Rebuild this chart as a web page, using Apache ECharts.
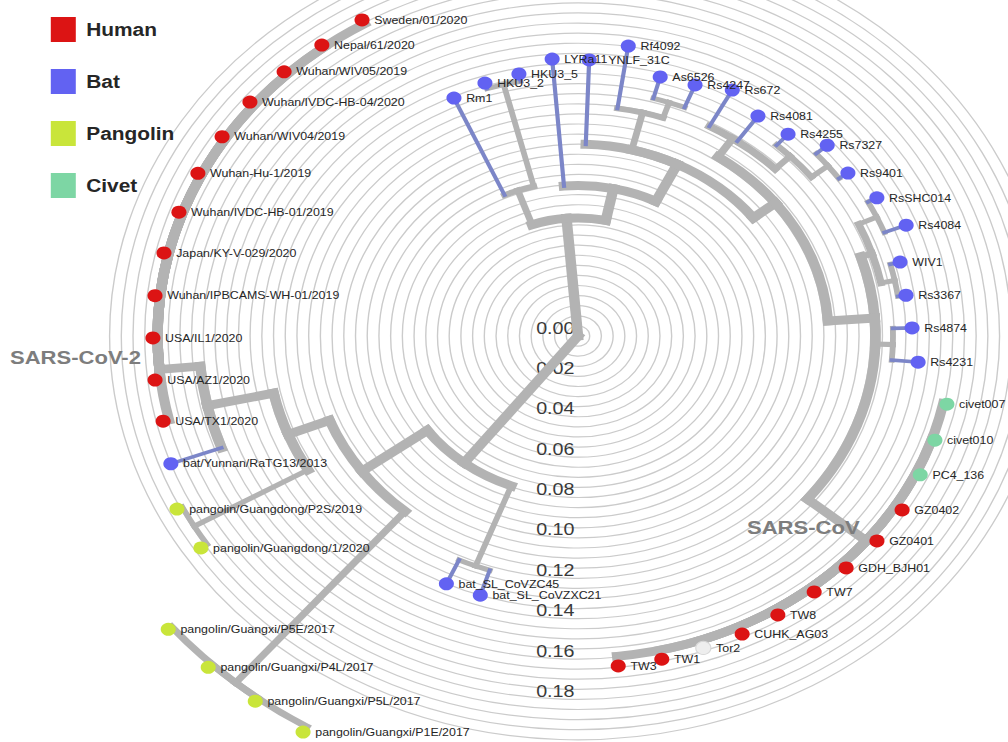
<!DOCTYPE html>
<html>
<head>
<meta charset="utf-8">
<script src="https://cdn.jsdelivr.net/npm/echarts@6/dist/echarts.min.js"></script>
<style>
html,body{margin:0;padding:0;background:#fff;overflow:hidden;}
#frame{width:1008px;height:742px;overflow:hidden;position:relative;background:#fff;}
#chart{height:742px;transform-origin:0 0;}
</style>
</head>
<body>
<div id="frame"><div id="chart"></div></div>
<script>
// ---------------- data ----------------
// tips: label, host, parent node, angle (deg, counter-clockwise from 3 o'clock), distance
const tipNames = [
  'Sweden/01/2020','Nepal/61/2020','Wuhan/WIV05/2019','Wuhan/IVDC-HB-04/2020','Wuhan/WIV04/2019',
  'Wuhan-Hu-1/2019','Wuhan/IVDC-HB-01/2019','Japan/KY-V-029/2020','Wuhan/IPBCAMS-WH-01/2019',
  'USA/IL1/2020','USA/AZ1/2020','USA/TX1/2020',
  'bat/Yunnan/RaTG13/2013',
  'pangolin/Guangdong/P2S/2019','pangolin/Guangdong/1/2020',
  'pangolin/Guangxi/P5E/2017','pangolin/Guangxi/P4L/2017','pangolin/Guangxi/P5L/2017','pangolin/Guangxi/P1E/2017',
  'bat_SL_CoVZC45','bat_SL_CoVZXC21',
  'Rm1','HKU3_2','HKU3_5','LYRa11','YNLF_31C','Rf4092','As6526','Rs4247',
  'Rs672','Rs4081','Rs4255','Rs7327','Rs9401','RsSHC014','Rs4084','WIV1','Rs3367','Rs4874','Rs4231',
  'civet007','civet010','PC4_136','GZ0402','GZ0401','GDH_BJH01','TW7','TW8','CUHK_AG03','Tor2','TW1','TW3'
];
const tipHosts = [
  'Human','Human','Human','Human','Human','Human','Human','Human','Human','Human','Human','Human',
  'Bat',
  'Pangolin','Pangolin',
  'Pangolin','Pangolin','Pangolin','Pangolin',
  'Bat','Bat',
  'Bat','Bat','Bat','Bat','Bat','Bat','Bat','Bat',
  'Bat','Bat','Bat','Bat','Bat','Bat','Bat','Bat','Bat','Bat','Bat',
  'Civet','Civet','Civet','Human','Human','Human','Human','Human','Human','Unknown','Human','Human'
];
const tipParent = [
  'S2','S2','S2','S2','S2','S2','S2','S2','S2','S2','S2','S2',
  'B3',
  'PGD','PGD',
  'PGX','PGX','PGX','PGX',
  'BSL','BSL',
  'UL','HKU3','HKU3','UR','C','RF','AR','AR',
  'RS1','RS1','RS1b','RS1c','RS1c','SR','SR','WR','WR','RsB','RsB',
  'SC','SC','SC','SC','SC','SC','SC','SC','SC','SC','SC','SC'
];
const tipAngle = [
  120.5,127.2,133.8,140.4,147.0,153.6,160.2,166.9,173.7,180.3,186.9,193.4,
  200.0,
  206.6,213.1,
  219.7,226.1,232.7,239.1,
  245.4,252.0,
  114.2,107.6,101.0,94.6,88.0,81.5,74.7,68.1,
  61.6,54.8,48.1,41.6,35.0,28.2,21.4,14.9,8.2,1.6,-5.1,
  -12.1,-18.7,-25.2,-31.9,-38.5,-45.1,-51.5,-58.3,-64.6,-70.9,-77.4,-84.0
];
const tipDist = [
  0.1817,0.1809,0.1813,0.1818,0.1812,0.1812,0.1811,0.1815,0.1817,0.1815,0.1819,0.1821,
  0.185,
  0.1915,0.1922,
  0.2274,0.2277,0.2274,0.2286,
  0.135,0.135,
  0.1292,0.1314,0.1322,0.1376,0.1368,0.1452,0.133,0.134,
  0.1385,0.1333,0.1343,0.1423,0.1407,0.1448,0.1505,0.1423,0.1415,0.1427,0.1458,
  0.1611,0.1609,0.1615,0.163,0.1631,0.1622,0.162,0.1624,0.1634,0.1635,0.164,0.1643
];
// internal nodes: id, parent, angle, distance
const nodeNames  = ['root','U','UL','HKU3','UR','C','RF','AR','A','RS1','RS1b','RS1c','N','RS2','SR','WR','RsB','SC',
                    'B','B1','BSL','B2','PGX','B3','PGD','S2'];
const nodeParent = [null,'root','U','UL','U','UR','C','RF','C','A','RS1','RS1b','A','N','RS2','RS2','N','N',
                    'root','B','B','B1','B1','B2','B2','B3'];
const nodeAngle  = [0,94.8,109.6,104.3,78.3,63.5,76.0,71.4,38.0,56.0,44.5,38.3,4.0,18.0,24.8,11.5,-1.8,-39.5,
                    232.3,216.0,249.0,201.5,229.6,192.3,209.9,185.3];
const nodeDist   = [0,0.0585,0.0765,0.1285,0.0745,0.095,0.114,0.122,0.107,0.118,0.127,0.136,0.127,0.132,0.1405,0.138,0.1345,0.1595,
                    0.0795,0.114,0.122,0.133,0.2255,0.162,0.189,0.1795];
const hostNames = ['Human','Bat','Pangolin','Civet'];
const cladeNames = ['SARS-CoV-2','SARS-CoV'];
// radial scale: ring every 0.005, label every 0.02 up to 0.18
const RING_STEP = 0.005, LABEL_STEP = 0.02, LABEL_MAX = 0.18, AXIS_MAX = 0.2;

// ---------------- styles / layout ----------------
const STRETCH = 1.16;             // the reference figure is stretched horizontally
const PX_PER_UNIT = 2019;
const hostColors = {Human:'#dc1414', Bat:'#6262f2', Pangolin:'#c9e53a', Civet:'#7dd6a4', Unknown:'#eeeeee'};
const GRAY = '#b3b3b3', BLUE = '#7c86c8';
const FONT = 'Liberation Sans, Arial, Helvetica, sans-serif';
const labelGap = {'YNLF_31C': 10};   // keeps this label clear of its crowded neighbour

const chartEl = document.getElementById('chart');
chartEl.style.width = (1008 / STRETCH) + 'px';
chartEl.style.transform = 'scaleX(' + STRETCH + ')';

// ---------------- build tree ----------------
const nodes = {};
nodeNames.forEach((n, i) => { nodes[n] = {name:n, parent:nodeParent[i], angle:nodeAngle[i], dist:nodeDist[i], host:'', tip:false, kids:[]}; });
tipNames.forEach((n, i) => { nodes[n] = {name:n, parent:tipParent[i], angle:tipAngle[i], dist:tipDist[i], host:tipHosts[i], tip:true, kids:[]}; });
Object.values(nodes).forEach(nd => { if (nd.parent) nodes[nd.parent].kids.push(nd.name); });
function countTips(nd) { if (nd.tip) return 1; if (nd.nt) return nd.nt; nd.nt = nd.kids.reduce((s, k) => s + countTips(nodes[k]), 0); return nd.nt; }
Object.values(nodes).forEach(countTips);
const widthOf = nd => Math.min(9, 3.6 + 1.45 * Math.log2(countTips(nd)));
const toAxisAngle = a => a + 90;   // angle axis starts at 6 o'clock, counter-clockwise

const edgeData = [];
Object.values(nodes).forEach(nd => {
  if (!nd.parent) return;
  const p = nodes[nd.parent];
  edgeData.push([nd.dist, toAxisAngle(nd.angle), p.dist, toAxisAngle(p.angle), widthOf(p), widthOf(nd), (nd.tip && nd.host === 'Bat') ? 1 : 0]);
});

function renderEdge(params, api) {
  const r1 = api.value(0), a1 = api.value(1), r0 = api.value(2), a0 = api.value(3);
  const wP = api.value(4), wC = api.value(5), blue = api.value(6);
  const c = api.coord([0, a1]);
  const pPar = api.coord([r0, a0]);
  const pElb = api.coord([r0, a1]);
  const pChd = api.coord([r1, a1]);
  const children = [];
  if (r0 > 0) {
    const R = Math.hypot(pElb[0] - c[0], pElb[1] - c[1]);
    const s0 = Math.atan2(pPar[1] - c[1], pPar[0] - c[0]);
    let d = Math.atan2(pElb[1] - c[1], pElb[0] - c[0]) - s0;
    while (d > Math.PI) d -= 2 * Math.PI;
    while (d < -Math.PI) d += 2 * Math.PI;
    if (Math.abs(d) > 1e-6) {
      children.push({type:'arc', shape:{cx:c[0], cy:c[1], r:R, startAngle:s0, endAngle:s0 + d, clockwise:d > 0},
        style:{stroke:GRAY, lineWidth:wP, fill:'none', lineCap:'square'}});
    }
  }
  children.push({type:'line', shape:{x1:pElb[0], y1:pElb[1], x2:pChd[0], y2:pChd[1]},
    style:{stroke: blue ? BLUE : GRAY, lineWidth:wC, lineCap:'square'}});
  return {type:'group', children};
}

const scatterSeries = hostNames.concat(['Unknown']).map(h => ({
  type:'scatter', name:h, coordinateSystem:'polar', clip:false, z:3,
  symbolSize:13,
  itemStyle:{color:hostColors[h], opacity:1, borderColor: h === 'Unknown' ? '#d8d8d8' : 'transparent', borderWidth: h === 'Unknown' ? 1 : 0},
  label:{show:true, position:'right', distance:4, formatter:'{b}', fontSize:10.7, color:'#262626', fontFamily:FONT},
  emphasis:{disabled:true},
  data: tipNames.map((n, i) => {
      const item = {name:n, value:[tipDist[i], toAxisAngle(tipAngle[i])], host:tipHosts[i]};
      if (labelGap[n]) item.label = {distance: labelGap[n]};
      return item;
    }).filter(d => d.host === h)
}));

const chart = echarts.init(chartEl, null, {renderer:'svg'});
chart.setOption({
  animation:false,
  backgroundColor:'#ffffff',
  textStyle:{fontFamily:FONT},
  legend:{
    data:hostNames, orient:'vertical', left:45 / STRETCH, top:12, icon:'rect',
    itemWidth:25 / STRETCH, itemHeight:25, itemGap:27, selectedMode:false,
    textStyle:{fontSize:18, fontWeight:'bold', color:'#262626', fontFamily:FONT, padding:[0,0,0,4]}
  },
  polar:{center:[578 / STRETCH, 336], radius:[0, AXIS_MAX * PX_PER_UNIT]},
  angleAxis:{type:'value', min:0, max:360, startAngle:270, clockwise:false,
    axisLine:{show:false}, axisTick:{show:false}, axisLabel:{show:false}, splitLine:{show:false}},
  radiusAxis:{type:'value', min:0, max:AXIS_MAX, interval:RING_STEP,
    axisLine:{show:false}, axisTick:{show:false},
    splitLine:{show:true, lineStyle:{color:'#cbcbcb', width:1.2}},
    axisLabel:{show:true, fontSize:17, color:'#3a3a3a', fontFamily:FONT, align:'right', verticalAlign:'bottom', margin:-3,
      formatter: v => (Math.round(v * 1000) % Math.round(LABEL_STEP * 1000) === 0 && v <= LABEL_MAX + 1e-9) ? v.toFixed(2) : ''}},
  graphic:[
    {type:'text', x:10 / STRETCH, y:357, z:10, style:{text:cladeNames[0], fontSize:19, fontWeight:'bold', fill:'#7d7d7d', fontFamily:FONT, verticalAlign:'middle'}},
    {type:'text', x:747 / STRETCH, y:527, z:10, style:{text:cladeNames[1], fontSize:19, fontWeight:'bold', fill:'#7d7d7d', fontFamily:FONT, verticalAlign:'middle'}}
  ],
  series:[
    {type:'custom', coordinateSystem:'polar', silent:true, z:2,
     dimensions:['r','a','rp','ap','wp','wc','blue'], encode:{radius:'r', angle:'a'},
     renderItem:renderEdge, data:edgeData}
  ].concat(scatterSeries)
});
</script>
</body>
</html>
